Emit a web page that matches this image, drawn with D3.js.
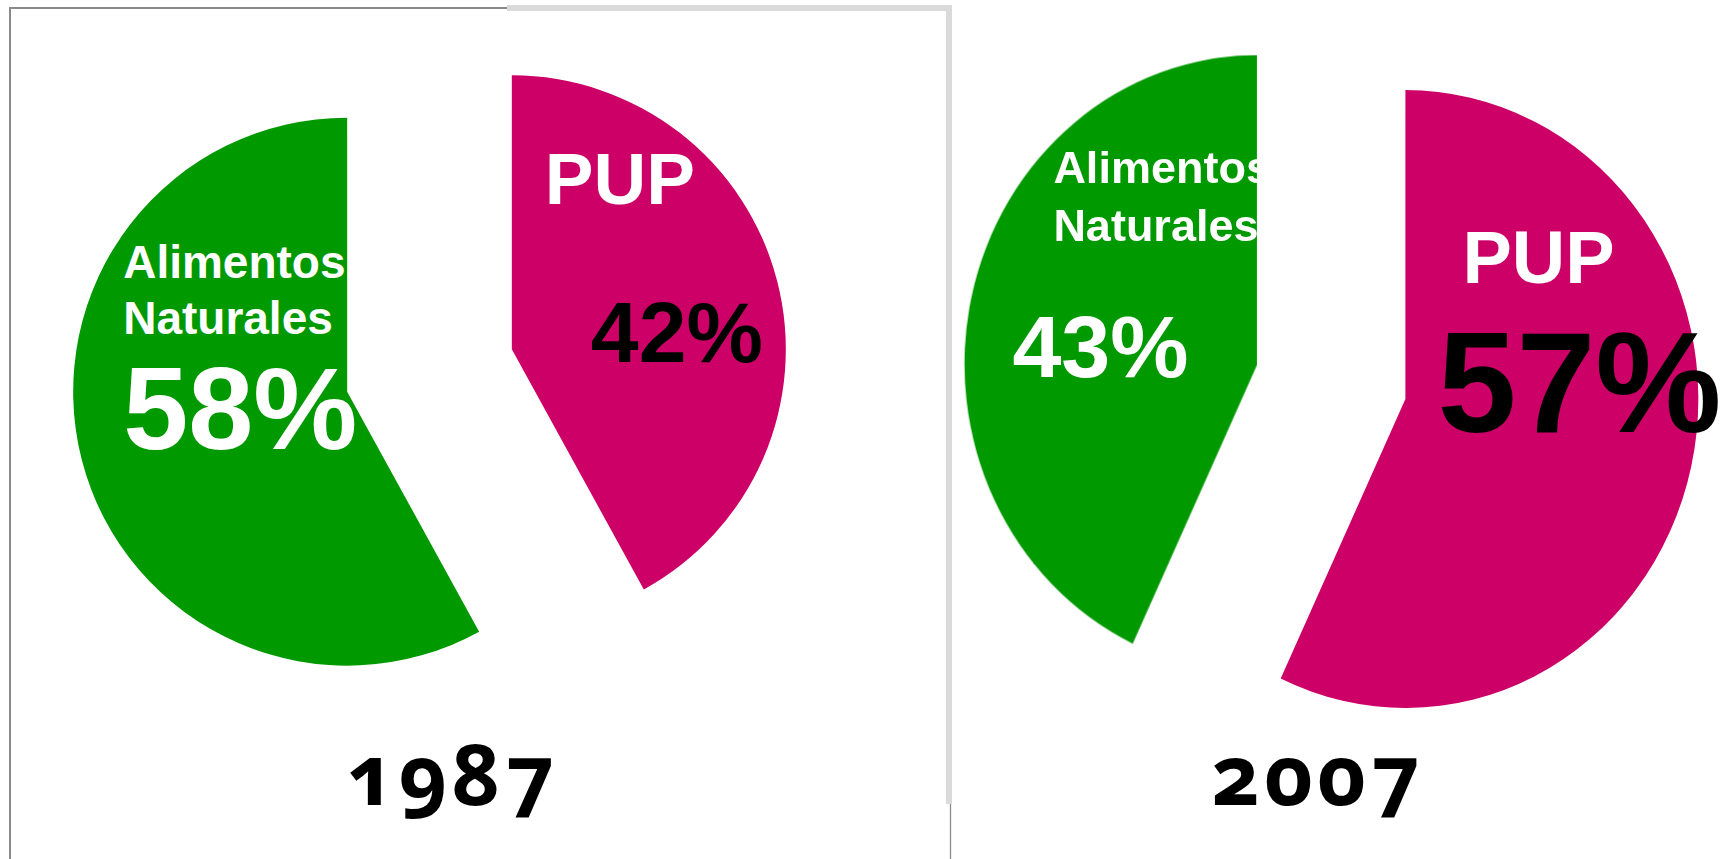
<!DOCTYPE html>
<html>
<head>
<meta charset="utf-8">
<script src="https://cdn.jsdelivr.net/npm/d3@7"></script>
<style>
  html, body { margin: 0; padding: 0; background: #fff; overflow: hidden; }
  svg { display: block; }
  .name { font-family: "Liberation Sans", Arial, sans-serif; font-weight: bold; fill: #fff; }
  .pct { font-family: "Liberation Sans", Arial, sans-serif; font-weight: bold; }
  .year { font-family: "Noto Sans", "Open Sans", sans-serif; font-weight: bold;
          font-variant-numeric: oldstyle-nums; font-feature-settings: "onum" 1; fill: #000; }
</style>
</head>
<body>
<svg id="chart"></svg>
<script>
// data
const categories = ["PUP", "Alimentos Naturales"];
const years = ["1987", "2007"];
const shares1987 = [42, 58];
const shares2007 = [57, 43];
const colors = ["#cc0066", "#009900"];

const width = 1726, height = 859;
const svg = d3.select("#chart").attr("width", width).attr("height", height);

// the second picture is a bit soft in the source
svg.append("defs").append("filter").attr("id", "soft")
  .append("feGaussianBlur").attr("stdDeviation", 0.7);

// frame around the first picture (dark part, then light part)
const frame = svg.append("g").attr("fill", "none");
frame.append("path").attr("d", "M10,859V8H507").attr("stroke", "#8a8a8a").attr("stroke-width", 2);
frame.append("path").attr("d", "M507,8H949V804").attr("stroke", "#dadada").attr("stroke-width", 6);
frame.append("path").attr("d", "M950.5,804V859").attr("stroke", "#8c8c8c").attr("stroke-width", 1.3);

// layout of each pie
const charts = [
  {year: years[0], values: shares1987, cx: 429.5, cy: 370.5, r: 274, sx: 1, explode: 85, yearX: 452, soft: false,
   labels: [
     {name: [33, -145], nameSize: 73, lineH: 0, pct: [79, 13], pctSize: 86, pctColor: "#000"},
     {name: [-224, -114], nameSize: 46, lineH: 56, pct: [-224, 57], pctSize: 117, pctColor: "#fff"}
   ]},
  {year: years[1], values: shares2007, cx: 1331.4, cy: 381.5, r: 309, sx: 0.948, explode: 80, yearX: 1317.5, soft: true,
   labels: [
     {name: [57, -116], nameSize: 74, lineH: 0, pct: [32, 33], pctSize: 142, pctColor: "#000"},
     {name: [-204, -181], nameSize: 45, lineH: 58, pct: [-245, 13], pctSize: 88, pctColor: "#fff"}
   ]}
];

const pie = d3.pie().sort(null).value(d => d);

charts.forEach(c => {
  const arcs = pie(c.values);
  const arc = d3.arc().innerRadius(0).outerRadius(c.r);
  const off = d => {
    const mid = (d.startAngle + d.endAngle) / 2;
    return [Math.sin(mid) * c.explode, -Math.cos(mid) * c.explode];
  };

  const wrap = svg.append("g").attr("filter", c.soft ? "url(#soft)" : null);

  const g = wrap.append("g")
      .attr("transform", "translate(" + c.cx + "," + c.cy + ") scale(" + c.sx + ",1)");

  g.selectAll("path.slice")
    .data(arcs)
    .enter().append("path")
      .attr("class", "slice")
      .attr("transform", d => "translate(" + off(d) + ")")
      .attr("d", arc)
      .attr("fill", (d, i) => colors[i]);

  // labels, placed from the centre of each exploded slice
  arcs.forEach((d, i) => {
    const o = off(d);
    const sx0 = c.cx + o[0] * c.sx, sy0 = c.cy + o[1];
    const lab = c.labels[i];
    const t = wrap.append("text")
        .attr("class", "name")
        .attr("font-size", lab.nameSize);
    categories[i].split(" ").forEach((w, k) => {
      t.append("tspan")
        .attr("x", sx0 + lab.name[0])
        .attr("y", sy0 + lab.name[1] + k * lab.lineH)
        .text(w);
    });
    wrap.append("text")
      .attr("class", "pct")
      .attr("x", sx0 + lab.pct[0])
      .attr("y", sy0 + lab.pct[1])
      .attr("font-size", lab.pctSize)
      .attr("fill", lab.pctColor)
      .text(c.values[i] + "%");
  });

  svg.append("text")
    .attr("class", "year")
    .attr("x", c.yearX)
    .attr("y", 805)
    .attr("text-anchor", "middle")
    .attr("font-size", 84)
    .attr("letter-spacing", 4)
    .text(c.year);
});
</script>
</body>
</html>
